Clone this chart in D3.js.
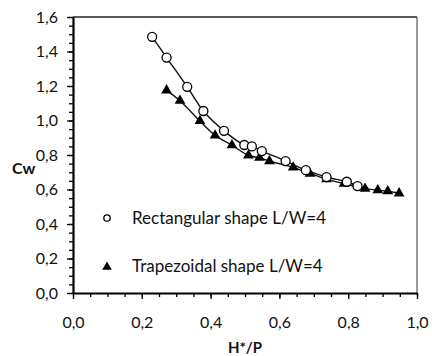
<!DOCTYPE html>
<html>
<head>
<meta charset="utf-8">
<script src="https://cdn.jsdelivr.net/npm/d3@7"></script>
<style>
body { margin:0; background:#fff; }
text { font-family: Lato, "Open Sans", sans-serif; fill:#111; }
</style>
</head>
<body>
<div id="chart"></div>
<script>
// H*/P and Cw
var rectX = [0.230, 0.272, 0.332, 0.379, 0.439, 0.498, 0.520, 0.549, 0.618, 0.677, 0.737, 0.796, 0.827];
var rectY = [1.485, 1.365, 1.195, 1.055, 0.940, 0.858, 0.850, 0.823, 0.765, 0.712, 0.672, 0.645, 0.620];

var trapX = [0.272, 0.311, 0.369, 0.413, 0.462, 0.510, 0.542, 0.571, 0.640, 0.689, 0.737, 0.788, 0.849, 0.886, 0.915, 0.948];
var trapY = [1.175, 1.115, 0.997, 0.914, 0.857, 0.797, 0.784, 0.764, 0.728, 0.692, 0.660, 0.634, 0.605, 0.596, 0.590, 0.578];

var xTicks = [0, 0.2, 0.4, 0.6, 0.8, 1.0];
var yTicks = [0, 0.2, 0.4, 0.6, 0.8, 1.0, 1.2, 1.4, 1.6];
var legendNames = ["Rectangular shape L/W=4", "Trapezoidal shape L/W=4"];

var W = 432, H = 356;
var margin = {top:17, right:15, bottom:63, left:73};

var x = d3.scaleLinear().domain([0, 1]).range([margin.left, W - margin.right]);
var y = d3.scaleLinear().domain([0, 1.6]).range([H - margin.bottom, margin.top]);

var svg = d3.select("#chart").append("svg")
    .attr("width", W).attr("height", H);

var comma = function(d){ return d3.format(".1f")(d).replace(".", ","); };

// frame: top and right
svg.append("line")
    .attr("x1", x(0)).attr("x2", x(1)).attr("y1", y(1.6)).attr("y2", y(1.6))
    .style("stroke", "#222").style("stroke-width", 1.5);
svg.append("line")
    .attr("x1", x(1)).attr("x2", x(1)).attr("y1", y(1.6)).attr("y2", y(0))
    .style("stroke", "#555").style("stroke-width", 1.2);

// minor ticks
var minorX = d3.range(0, 1.0001, 0.05);
var minorY = d3.range(0, 1.6001, 0.05);

svg.append("g")
    .attr("transform", "translate(0," + y(0) + ")")
    .call(d3.axisBottom(x).tickValues(minorX).tickSize(4).tickFormat(""))
    .call(function(g){ g.select(".domain").remove(); g.selectAll("line").style("stroke-width", 1.3); });

svg.append("g")
    .attr("transform", "translate(" + x(0) + ",0)")
    .call(d3.axisLeft(y).tickValues(minorY).tickSize(4).tickFormat(""))
    .call(function(g){ g.select(".domain").remove(); g.selectAll("line").style("stroke-width", 1.3); });

// major axes
var xAxis = svg.append("g")
    .attr("transform", "translate(0," + y(0) + ")")
    .call(d3.axisBottom(x).tickValues(xTicks).tickSize(6).tickSizeOuter(0).tickPadding(18).tickFormat(comma));
xAxis.select(".domain").style("stroke", "#000").style("stroke-width", 2.2);
xAxis.selectAll("line").style("stroke-width", 1.3);
xAxis.selectAll("text").style("font-size", "16px").attr("fill", "#111");

var yAxis = svg.append("g")
    .attr("transform", "translate(" + x(0) + ",0)")
    .call(d3.axisLeft(y).tickValues(yTicks).tickSize(6).tickSizeOuter(0).tickPadding(9).tickFormat(comma));
yAxis.select(".domain").style("stroke", "#000").style("stroke-width", 2.2);
yAxis.selectAll("line").style("stroke-width", 1.3);
yAxis.selectAll("text").style("font-size", "16px").attr("fill", "#111");

// axis titles
svg.append("text")
    .attr("x", x(0.5)).attr("y", H - 3)
    .attr("text-anchor", "middle")
    .style("font-size", "15px").style("font-weight", "bold")
    .text("H*/P");
svg.append("text")
    .attr("x", 12).attr("y", y(0.72) + 5)
    .style("font-size", "16px").style("font-weight", "bold")
    .text("Cw");

// curves
var line = d3.line()
    .curve(d3.curveCatmullRom.alpha(0.5))
    .x(function(d){ return x(d[0]); })
    .y(function(d){ return y(d[1]); });

var rectData = rectX.map(function(v, i){ return [v, rectY[i]]; });
var trapData = trapX.map(function(v, i){ return [v, trapY[i]]; });

svg.append("path").datum(rectData).attr("d", line)
    .style("fill", "none").style("stroke", "#111").style("stroke-width", 1.4);
svg.append("path").datum(trapData).attr("d", line)
    .style("fill", "none").style("stroke", "#111").style("stroke-width", 1.4);

var tri = d3.symbol().type(d3.symbolTriangle).size(50);

svg.selectAll(".tri").data(trapData).enter().append("path")
    .attr("class", "tri")
    .attr("d", tri)
    .attr("transform", function(d){ return "translate(" + x(d[0]) + "," + y(d[1]) + ")"; })
    .style("fill", "#000");

svg.selectAll(".circ").data(rectData).enter().append("circle")
    .attr("class", "circ")
    .attr("cx", function(d){ return x(d[0]); })
    .attr("cy", function(d){ return y(d[1]); })
    .attr("r", 4.5)
    .style("fill", "#fff").style("stroke", "#000").style("stroke-width", 1.3);

// legend
var leg = svg.append("g");
leg.append("circle").attr("cx", 107).attr("cy", 218).attr("r", 3.2)
    .style("fill", "#fff").style("stroke", "#000").style("stroke-width", 1.3);
leg.append("path").attr("d", d3.symbol().type(d3.symbolTriangle).size(40))
    .attr("transform", "translate(107,267)").style("fill", "#000");
leg.selectAll(".lt").data(legendNames).enter().append("text")
    .attr("class", "lt")
    .attr("x", 132)
    .attr("y", function(d, i){ return 224 + i * 48; })
    .style("font-size", "17px")
    .text(function(d){ return d; });
</script>
</body>
</html>
